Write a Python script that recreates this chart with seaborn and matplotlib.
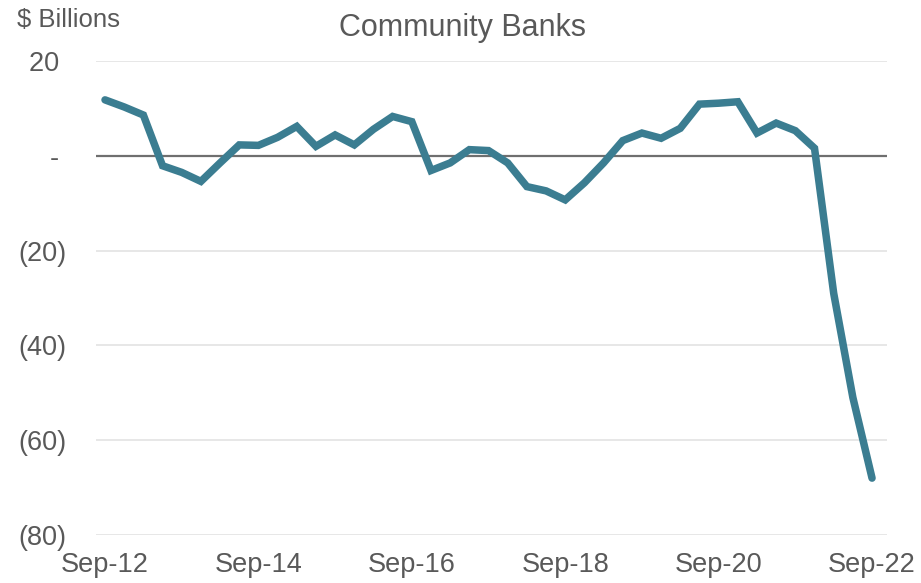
import matplotlib
matplotlib.use("Agg")
import matplotlib.pyplot as plt
import seaborn as sns
import pandas as pd
import numpy as np

# Quarterly values, Sep-12 through Sep-22 ($ billions)
quarters = [
    "Sep-12", "Dec-12", "Mar-13", "Jun-13", "Sep-13", "Dec-13", "Mar-14", "Jun-14",
    "Sep-14", "Dec-14", "Mar-15", "Jun-15", "Sep-15", "Dec-15", "Mar-16", "Jun-16",
    "Sep-16", "Dec-16", "Mar-17", "Jun-17", "Sep-17", "Dec-17", "Mar-18", "Jun-18",
    "Sep-18", "Dec-18", "Mar-19", "Jun-19", "Sep-19", "Dec-19", "Mar-20", "Jun-20",
    "Sep-20", "Dec-20", "Mar-21", "Jun-21", "Sep-21", "Dec-21", "Mar-22", "Jun-22",
    "Sep-22",
]
values = [
    11.8, 10.3, 8.6, -2.1, -3.5, -5.4, -1.5, 2.3,
    2.2, 3.9, 6.2, 2.0, 4.4, 2.3, 5.6, 8.3,
    7.2, -3.1, -1.5, 1.3, 1.1, -1.5, -6.5, -7.4,
    -9.3, -5.7, -1.5, 3.2, 4.8, 3.7, 5.8, 10.9,
    11.1, 11.4, 4.8, 6.9, 5.3, 1.6, -29.0, -51.0,
    -68.0,
]
tick_labels = ["Sep-12", "Sep-14", "Sep-16", "Sep-18", "Sep-20", "Sep-22"]
y_ticks = [20, 0, -20, -40, -60, -80]
# accounting-style labels: positives carry a trailing space where ")" would sit
y_tick_labels = ["20 ", "- ", "(20)", "(40)", "(60)", "(80)"]

sns.set_style("white")
plt.rcParams["font.family"] = ["Liberation Sans", "DejaVu Sans"]

df = pd.DataFrame({"idx": np.arange(len(values)), "value": values})

fig = plt.figure(figsize=(9.21, 5.83), dpi=100)
ax = fig.add_axes([96 / 921, 48 / 583, (887 - 96) / 921, (535 - 61) / 583])

text_color = "#595959"

# gridlines
for t in y_ticks:
    if t == 0:
        ax.axhline(t, color="#6f6f6f", lw=1.6, zorder=1)
    else:
        ax.axhline(t, color="#e3e3e3", lw=1.2, zorder=0)

sns.lineplot(data=df, x="idx", y="value", ax=ax, color="#3b7d91", lw=5.4,
             solid_capstyle="round", solid_joinstyle="miter", zorder=3)

ax.set_xlim(-0.47, 40.78)
ax.set_ylim(-80, 20)
tick_pos = [quarters.index(q) for q in tick_labels]
ax.set_xticks(tick_pos)
ax.set_xticklabels(tick_labels)
ax.set_yticks(y_ticks)
ax.set_yticklabels(y_tick_labels)
ax.tick_params(axis="both", length=0, labelsize=19.5, colors=text_color)
ax.tick_params(axis="y", pad=21)
ax.tick_params(axis="x", pad=12)
ax.set_xlabel("")
ax.set_ylabel("")
for s in ax.spines.values():
    s.set_visible(False)

fig.text(462 / 921, 1 - 28 / 583, "Community Banks", ha="center", va="center",
         fontsize=22, color=text_color)
fig.text(17 / 921, 1 - 20 / 583, "$ Billions", ha="left", va="center",
         fontsize=18.5, color=text_color)

fig.savefig("out.png", dpi=100, facecolor="white")
